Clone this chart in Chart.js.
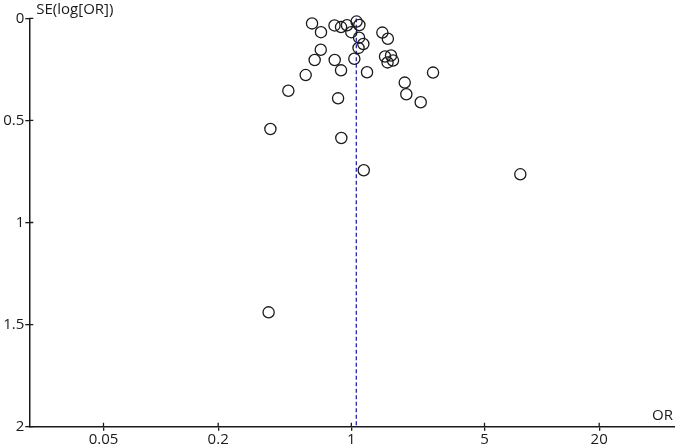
<!DOCTYPE html>
<html>
<head>
<meta charset="utf-8">
<script src="https://cdn.jsdelivr.net/npm/chart.js@4.4.1/dist/chart.umd.min.js"></script>
<style>
  html, body { margin: 0; padding: 0; background: #fff; overflow: hidden; }
  canvas { display: block; }
</style>
</head>
<body>
<canvas id="funnel" width="675" height="446"></canvas>
<script>
// study estimates
const oddsRatios = [
  0.622, 0.693, 0.816, 0.883, 0.949, 1.0, 1.065, 1.102, 1.098, 1.156,
  1.091, 1.455, 1.555, 0.691, 0.642, 0.818, 1.037, 1.503, 1.616, 1.655,
  1.549, 0.576, 0.883, 1.209, 2.685, 0.467, 1.907, 1.944, 0.852, 2.313,
  0.376, 0.886, 1.162, 7.71, 0.368
];
const standardErrors = [
  0.025, 0.068, 0.035, 0.043, 0.034, 0.068, 0.016, 0.033, 0.095, 0.126,
  0.145, 0.070, 0.100, 0.154, 0.204, 0.204, 0.198, 0.187, 0.182, 0.207,
  0.216, 0.278, 0.255, 0.264, 0.266, 0.355, 0.315, 0.372, 0.392, 0.411,
  0.542, 0.586, 0.744, 0.764, 1.440
];
const pooledOR = 1.062;
const xTicks = [0.05, 0.2, 1, 5, 20];
const yTicks = [0, 0.5, 1, 1.5, 2];

const FONT = "'Open Sans', 'DejaVu Sans', sans-serif";
const INK = "#1a1a1a";

const studies = oddsRatios.map((or, i) => ({ x: or, y: standardErrors[i] }));

// ticks in RevMan cross the axis line, chart.js only draws the outer half
const crossTicks = {
  id: "crossTicks",
  afterDraw(chart) {
    const { ctx, chartArea, scales } = chart;
    ctx.save();
    ctx.strokeStyle = INK;
    ctx.lineWidth = 1.3;
    ctx.beginPath();
    xTicks.forEach(v => {
      const px = scales.x.getPixelForValue(v);
      ctx.moveTo(px, chartArea.bottom);
      ctx.lineTo(px, chartArea.bottom - 4);
    });
    yTicks.forEach(v => {
      const py = scales.y.getPixelForValue(v);
      ctx.moveTo(chartArea.left, py);
      ctx.lineTo(chartArea.left + 4, py);
    });
    ctx.stroke();

    ctx.fillStyle = INK;
    ctx.font = "15px " + FONT;
    ctx.textBaseline = "middle";
    ctx.textAlign = "left";
    ctx.fillText("SE(log[OR])", chartArea.left + 7, 10);
    ctx.textAlign = "right";
    ctx.fillText("OR", 673, chartArea.bottom - 11);
    ctx.restore();
  }
};

new Chart(document.getElementById("funnel"), {
  type: "scatter",
  data: {
    datasets: [
      {
        label: "Studies",
        data: studies,
        pointStyle: "circle",
        pointRadius: 5.6,
        pointHoverRadius: 5.6,
        pointBorderWidth: 1.3,
        pointBorderColor: INK,
        pointBackgroundColor: "rgba(0,0,0,0)",
        clip: false
      },
      {
        label: "Pooled",
        data: [{ x: pooledOR, y: 0 }, { x: pooledOR, y: 2 }],
        showLine: true,
        borderColor: "#2323b5",
        borderWidth: 1.3,
        borderDash: [4, 2.5],
        pointRadius: 0
      }
    ]
  },
  options: {
    responsive: false,
    animation: false,
    events: [],
    layout: { autoPadding: false, padding: { top: 18.3, right: 0, left: 0, bottom: 0 } },
    plugins: {
      legend: { display: false },
      tooltip: { enabled: false }
    },
    scales: {
      x: {
        type: "logarithmic",
        min: 0.0204,
        max: 50,
        afterBuildTicks: s => { s.ticks = xTicks.map(v => ({ value: v })); },
        afterFit: s => { s.height = 19.3; s.paddingLeft = 0; s.paddingRight = 0; },
        ticks: {
          color: INK,
          font: { family: FONT, size: 15 },
          padding: 0,
          maxRotation: 0,
          autoSkip: false,
          callback: v => String(v)
        },
        grid: { drawOnChartArea: false, tickLength: 4, color: INK, lineWidth: 1.3 },
        border: { color: INK, width: 1.5 }
      },
      y: {
        type: "linear",
        reverse: true,
        min: 0,
        max: 2,
        afterBuildTicks: s => { s.ticks = yTicks.map(v => ({ value: v })); },
        afterFit: s => { s.width = 29.3; },
        ticks: {
          color: INK,
          font: { family: FONT, size: 15 },
          padding: 1,
          callback: v => String(v)
        },
        grid: { drawOnChartArea: false, tickLength: 4, color: INK, lineWidth: 1.3 },
        border: { color: INK, width: 1.5 }
      }
    }
  },
  plugins: [crossTicks]
});
</script>
</body>
</html>
